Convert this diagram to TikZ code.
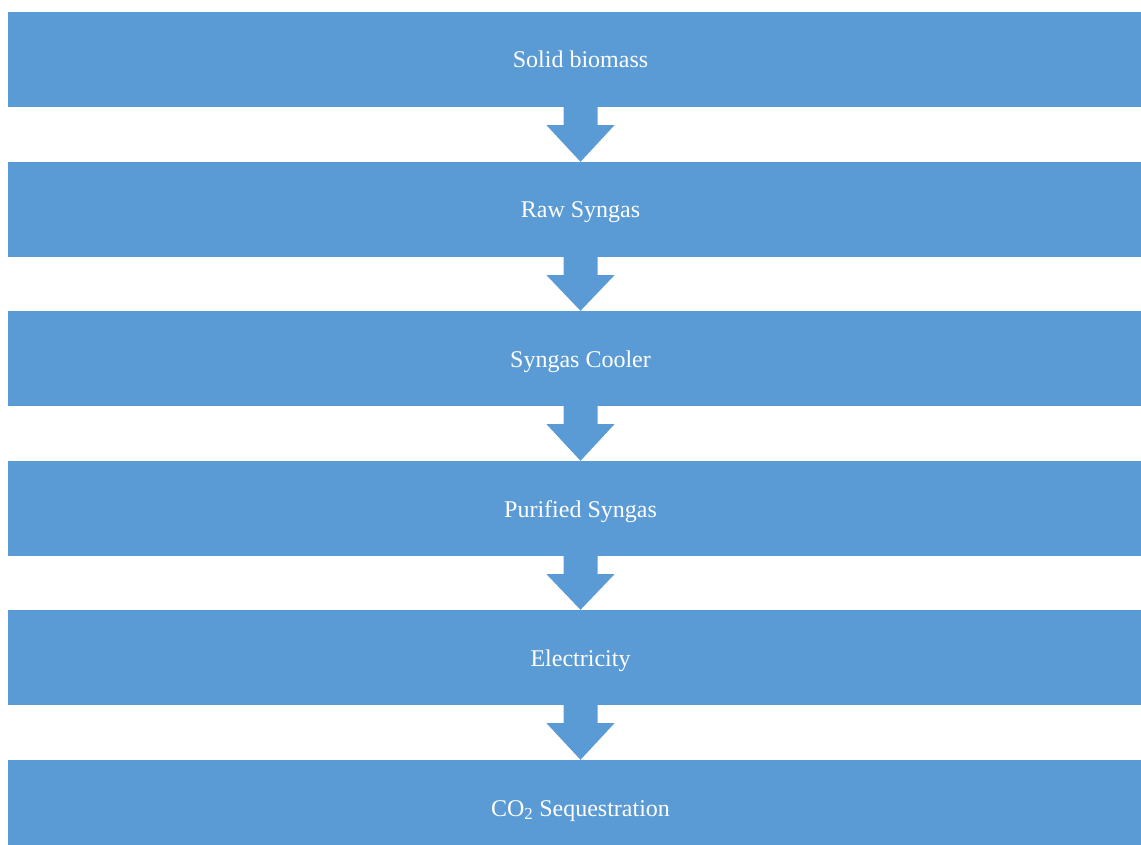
\documentclass[tikz,border=0pt]{standalone}
\usepackage{fontspec}
\setmainfont{Liberation Serif}
\usetikzlibrary{calc}
\definecolor{stageblue}{HTML}{5B9BD5}
\tikzset{
  stage/.style={fill=stageblue, draw=none, minimum width=1145pt, minimum height=95pt, inner sep=0pt, text=white, text height=17pt, text depth=0pt, font=\fontsize{24}{28}\selectfont},
  flow/.style={fill=stageblue, draw=none}
}
\begin{document}
\begin{tikzpicture}[x=1pt, y=1pt]
\useasboundingbox (0,0) rectangle (1141,-845);
\clip (0,0) rectangle (1141,-845);
\node[stage] (s1) at (580.5, -59.5) {Solid biomass};
\node[stage] (s2) at (580.5, -209.5) {Raw Syngas};
\node[stage] (s3) at (580.5, -358.5) {Syngas Cooler};
\node[stage] (s4) at (580.5, -508.5) {Purified Syngas};
\node[stage] (s5) at (580.5, -657.5) {Electricity};
\node[stage] (s6) at (580.5, -807.5) {CO\textsubscript{2} Sequestration};
\fill[flow] ($(s1.south)+(-17,0)$) -- ++(0,-18) -- ++(-17,0) -- (s2.north) -- ($(s1.south)+(34,-18)$) -- ++(-17,0) -- ++(0,18) -- cycle;
\fill[flow] ($(s2.south)+(-17,0)$) -- ++(0,-18) -- ++(-17,0) -- (s3.north) -- ($(s2.south)+(34,-18)$) -- ++(-17,0) -- ++(0,18) -- cycle;
\fill[flow] ($(s3.south)+(-17,0)$) -- ++(0,-18) -- ++(-17,0) -- (s4.north) -- ($(s3.south)+(34,-18)$) -- ++(-17,0) -- ++(0,18) -- cycle;
\fill[flow] ($(s4.south)+(-17,0)$) -- ++(0,-18) -- ++(-17,0) -- (s5.north) -- ($(s4.south)+(34,-18)$) -- ++(-17,0) -- ++(0,18) -- cycle;
\fill[flow] ($(s5.south)+(-17,0)$) -- ++(0,-18) -- ++(-17,0) -- (s6.north) -- ($(s5.south)+(34,-18)$) -- ++(-17,0) -- ++(0,18) -- cycle;
\end{tikzpicture}
\end{document}
